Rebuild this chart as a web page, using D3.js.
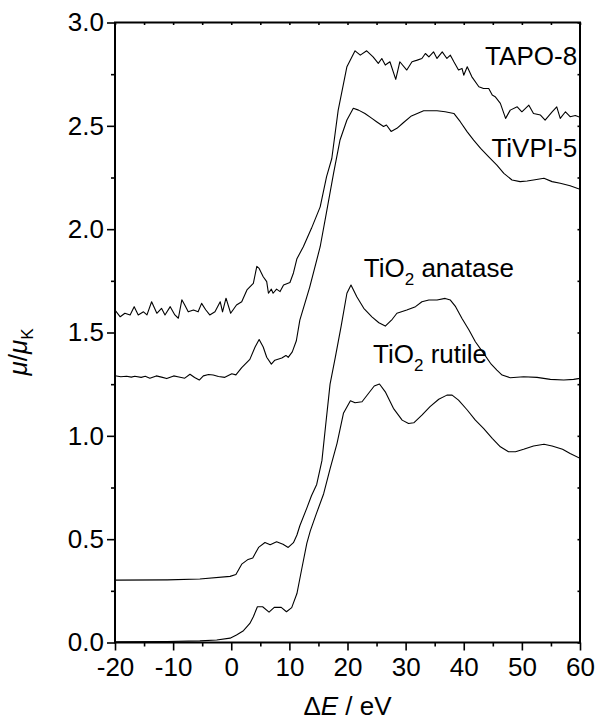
<!DOCTYPE html>
<html>
<head>
<meta charset="utf-8">
<script src="https://cdn.jsdelivr.net/npm/d3@7"></script>
<style>
  body { margin: 0; background: #fff; }
  svg text { font-family: "Liberation Sans", Arial, sans-serif; fill: #000; }
</style>
</head>
<body>
<div id="chart"></div>
<script>
// Ti K-edge XANES spectra, [ΔE (eV), μ/μK]
const tapo8 = [[-20,1.609],[-19.1,1.576],[-18.3,1.593],[-17.4,1.585],[-16.7,1.625],[-16.0,1.585],[-15.1,1.60],[-14.5,1.585],[-13.7,1.649],[-12.8,1.593],
  [-12.0,1.617],[-11.4,1.585],[-10.5,1.625],[-9.7,1.585],[-9.1,1.569],[-8.5,1.658],[-8.0,1.633],[-7.4,1.60],[-6.5,1.609],[-5.7,1.60],
  [-5.1,1.641],[-4.4,1.61],[-3.7,1.585],[-2.8,1.60],[-1.9,1.649],[-1.5,1.60],[-0.9,1.666],[-0.1,1.593],[0.9,1.633],[1.8,1.649],
  [2.7,1.706],[3.8,1.738],[4.4,1.82],[4.8,1.81],[5.5,1.77],[6.1,1.746],[6.4,1.69],[6.9,1.71],[7.2,1.69],[7.8,1.71],
  [8.4,1.698],[9.0,1.73],[10.1,1.742],[10.7,1.788],[11.3,1.857],[12.4,1.915],[13.8,2.004],[15.3,2.108],[16.4,2.254],[17.3,2.342],
  [18.4,2.576],[19.9,2.786],[21.3,2.863],[22.2,2.842],[23.3,2.863],[24.4,2.834],[25.3,2.802],[25.9,2.826],[26.5,2.794],[27.3,2.81],
  [28.3,2.725],[29.0,2.81],[30.2,2.77],[31.1,2.81],[32.0,2.818],[32.8,2.826],[33.4,2.85],[34.0,2.834],[34.8,2.858],[35.4,2.826],
  [36.3,2.858],[37.1,2.826],[37.7,2.842],[38.3,2.81],[39.1,2.77],[39.7,2.778],[40.0,2.745],[40.6,2.786],[41.4,2.737],[42.6,2.689],
  [43.4,2.681],[44.3,2.681],[44.9,2.649],[45.4,2.641],[46.3,2.609],[47.2,2.536],[48.0,2.576],[49.2,2.592],[50.0,2.568],[51.2,2.600],
  [52.0,2.56],[53.2,2.552],[54.0,2.528],[55.2,2.568],[56.0,2.592],[56.6,2.536],[57.5,2.568],[58.3,2.544],[59.2,2.55],[60,2.541]]

const tivpi5 = [[-20,1.291],[-19,1.286],[-18,1.288],[-17.2,1.284],[-16.6,1.288],[-15.5,1.283],[-14.8,1.288],[-14.0,1.279],[-12.9,1.290],[-12.0,1.284],
  [-11.1,1.277],[-9.9,1.29],[-9.0,1.285],[-8.0,1.279],[-7.1,1.298],[-6.3,1.282],[-5.5,1.27],[-4.8,1.29],[-3.9,1.297],[-3.1,1.294],
  [-2.2,1.287],[-1.1,1.283],[0.1,1.30],[0.8,1.295],[1.8,1.33],[3.2,1.37],[4.1,1.43],[4.8,1.466],[5.5,1.43],[6.1,1.38],
  [6.9,1.347],[7.5,1.366],[8.7,1.377],[9.4,1.389],[9.8,1.38],[10.5,1.406],[11.2,1.46],[11.8,1.56],[13.5,1.72],[15.3,1.915],
  [16.4,2.084],[17.6,2.27],[18.7,2.43],[19.9,2.528],[21.0,2.585],[21.9,2.576],[23.0,2.56],[24.2,2.536],[25.0,2.52],[26.2,2.497],
  [26.7,2.504],[27.5,2.473],[28.5,2.488],[29.6,2.515],[31.0,2.548],[32.0,2.56],[33.1,2.573],[34.2,2.573],[35.4,2.573],[36.8,2.568],
  [38.3,2.56],[39.4,2.52],[40.6,2.471],[41.7,2.431],[42.9,2.391],[44.3,2.35],[45.7,2.31],[46.9,2.27],[48.3,2.238],[49.7,2.23],
  [50.9,2.233],[52.0,2.238],[53.8,2.246],[55.2,2.23],[56.6,2.222],[58.3,2.21],[60,2.193]]

const anatase = [[-20,0.302],[-11,0.303],[-5.4,0.307],[-0.2,0.32],[0.8,0.329],[1.8,0.379],[2.9,0.402],[3.7,0.409],[4.7,0.46],[5.8,0.484],
  [6.7,0.473],[7.8,0.487],[8.9,0.475],[9.8,0.46],[10.7,0.483],[11.3,0.52],[11.8,0.565],[13.0,0.65],[13.8,0.71],[14.7,0.765],
  [15.6,0.88],[16.2,1.04],[17.0,1.25],[17.9,1.38],[18.9,1.53],[19.9,1.69],[20.6,1.73],[21.6,1.673],[22.8,1.617],[24.2,1.576],
  [25.4,1.547],[26.5,1.531],[27.7,1.564],[28.5,1.593],[30.2,1.609],[31.7,1.625],[32.8,1.649],[34.0,1.657],[35.4,1.657],[36.8,1.665],
  [37.7,1.657],[38.6,1.625],[39.7,1.568],[40.9,1.512],[42.0,1.455],[43.4,1.40],[44.6,1.351],[45.7,1.318],[46.6,1.294],[48.0,1.281],
  [50.3,1.286],[52.6,1.283],[54.9,1.273],[57.2,1.27],[58.9,1.273],[60,1.278]]

const rutile = [[-20,0.003],[-11,0.005],[-5.4,0.008],[-2.5,0.012],[-0.2,0.021],[0.9,0.036],[2.1,0.057],[3.2,0.092],[3.8,0.125],[4.5,0.173],
  [5.4,0.173],[6.5,0.147],[7.4,0.170],[8.6,0.170],[9.5,0.149],[10.4,0.169],[11.3,0.237],[12.1,0.352],[13.0,0.48],[13.6,0.54],
  [14.6,0.62],[15.9,0.72],[17.0,0.84],[18.2,0.964],[19.3,1.109],[19.9,1.14],[20.5,1.17],[21.3,1.16],[22.5,1.165],[23.6,1.205],
  [24.6,1.241],[25.5,1.251],[26.5,1.213],[27.9,1.133],[29.4,1.076],[30.5,1.06],[31.4,1.063],[32.8,1.10],[34.2,1.141],[35.7,1.177],
  [37.1,1.197],[38.0,1.197],[39.1,1.173],[40.6,1.125],[42.0,1.076],[43.4,1.036],[44.9,0.988],[46.3,0.947],[47.7,0.923],[48.9,0.923],
  [50.3,0.935],[52.0,0.951],[53.8,0.959],[55.2,0.951],[57.0,0.935],[58.3,0.915],[60,0.891]]

const series = [tapo8, tivpi5, anatase, rutile]

// curve labels: [text, subscript, rest, ΔE, μ, anchor]
const curveLabels = [
  ['TAPO-8', '', '', 59.5, 2.794, 'end'],
  ['TiVPI-5', '', '', 59.5, 2.349, 'end'],
  ['TiO', '2', ' anatase', 22.8, 1.768, 'start'],
  ['TiO', '2', ' rutile', 24.4, 1.351, 'start']
]

const xTicks = [-20, -10, 0, 10, 20, 30, 40, 50, 60]
const yTicks = [0.0, 0.5, 1.0, 1.5, 2.0, 2.5, 3.0]

const W = 597
const H = 720
const margin = { top: 22.5, right: 17, bottom: 77.5, left: 115 }
const width = W - margin.left - margin.right
const height = H - margin.top - margin.bottom

const svg = d3.select('#chart')
  .append('svg')
  .attr('width', W)
  .attr('height', H)

const g = svg.append('g')
  .attr('transform', `translate(${margin.left}, ${margin.top})`)

const x = d3.scaleLinear().domain([-20, 60]).range([0, width])
const y = d3.scaleLinear().domain([0, 3]).range([height, 0])

g.append('clipPath')
  .attr('id', 'clip')
  .append('rect')
  .attr('width', width)
  .attr('height', height)

// data lines
const line = d3.line()
  .x(d => x(d[0]))
  .y(d => y(d[1]))

g.append('g')
  .attr('clip-path', 'url(#clip)')
  .selectAll('path')
  .data(series)
  .join('path')
  .attr('d', line)
  .attr('fill', 'none')
  .attr('stroke', '#000')
  .attr('stroke-width', 1.1)
  .attr('stroke-linejoin', 'round')

// axes
function styleAxis (sel) {
  sel.select('.domain').remove()
  sel.selectAll('.tick line').attr('stroke', '#000').attr('stroke-width', 1.6)
  sel.selectAll('.tick text')
    .attr('font-size', 26)
    .attr('font-family', '"Liberation Sans", Arial, sans-serif')
}

const xMinor = d3.range(-15, 60, 10)
const yMinor = d3.range(0.25, 3, 0.5)

// plain hyphen for negatives, like the original figure
const fmtX = d => String(d)

g.append('g')
  .attr('transform', `translate(0, ${height})`)
  .call(d3.axisBottom(x).tickValues(xTicks).tickSize(8).tickPadding(7).tickFormat(fmtX))
  .call(styleAxis)

g.append('g')
  .attr('transform', `translate(0, ${height})`)
  .call(d3.axisBottom(x).tickValues(xMinor).tickSize(4).tickFormat(''))
  .call(styleAxis)

g.append('g')
  .call(d3.axisLeft(y).tickValues(yTicks).tickSize(8).tickPadding(3).tickFormat(d3.format('.1f')))
  .call(styleAxis)

g.append('g')
  .call(d3.axisLeft(y).tickValues(yMinor).tickSize(4).tickFormat(''))
  .call(styleAxis)

// inner ticks on the top and right edges
g.append('g')
  .call(d3.axisBottom(x).tickValues(xTicks.concat(xMinor)).tickSize(2.5).tickFormat(''))
  .call(styleAxis)

g.append('g')
  .attr('transform', `translate(${width}, 0)`)
  .call(d3.axisLeft(y).tickValues(yTicks.concat(yMinor)).tickSize(2.5).tickFormat(''))
  .call(styleAxis)

// frame
g.append('rect')
  .attr('width', width)
  .attr('height', height)
  .attr('fill', 'none')
  .attr('stroke', '#000')
  .attr('stroke-width', 2)

// curve labels
const lab = g.append('g')
  .selectAll('text')
  .data(curveLabels)
  .join('text')
  .attr('x', d => x(d[3]))
  .attr('y', d => y(d[4]))
  .attr('text-anchor', d => d[5])
  .attr('font-size', 26)

lab.append('tspan').text(d => d[0])
lab.filter(d => d[1]).append('tspan')
  .attr('font-size', 17)
  .attr('dy', 8)
  .text(d => d[1])
lab.filter(d => d[1]).append('tspan')
  .attr('dy', -8)
  .text(d => d[2])

// axis titles
const xt = svg.append('text')
  .attr('x', margin.left + width / 2)
  .attr('y', 715)
  .attr('text-anchor', 'middle')
  .attr('font-size', 26)
xt.append('tspan').text('Δ')
xt.append('tspan').attr('font-style', 'italic').text('E')
xt.append('tspan').text(' / eV')

const yt = svg.append('text')
  .attr('transform', 'translate(27, 352) rotate(-90)')
  .attr('text-anchor', 'middle')
  .attr('font-size', 26)
yt.append('tspan').attr('font-style', 'italic').text('μ')
yt.append('tspan').text('/')
yt.append('tspan').attr('font-style', 'italic').text('μ')
yt.append('tspan').attr('font-size', 17).attr('dy', 6).text('K')
</script>
</body>
</html>
